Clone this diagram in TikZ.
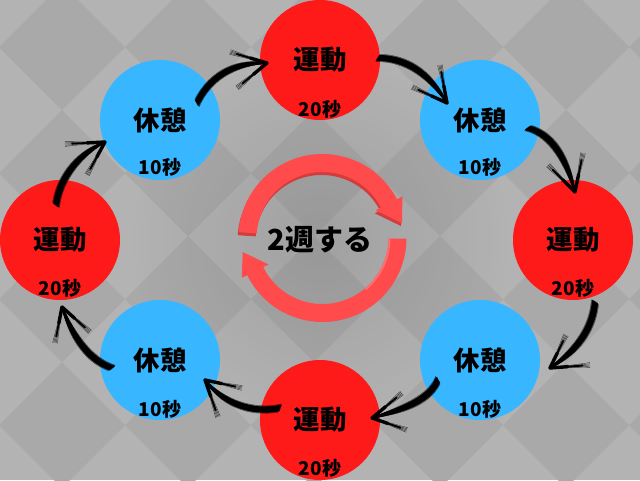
\documentclass[tikz,border=0pt]{standalone}
\usepackage{fontspec}
\usetikzlibrary{calc,fadings}
\setmainfont{Noto Sans CJK JP}
\definecolor{bgl}{HTML}{B3B3B3}
\definecolor{bgd}{HTML}{A9A9A9}
\definecolor{redc}{HTML}{FF1A1A}
\definecolor{bluec}{HTML}{38B6FF}
\definecolor{ringc}{HTML}{FF4B4B}
\definecolor{rings}{HTML}{D23C3C}
\definecolor{ringl}{HTML}{FF6E6E}
\tikzfading[name=midglow,inner color=transparent!90,outer color=transparent!100]
\tikzset{
  disc/.style={circle,minimum size=120pt,inner sep=0pt,font=\bfseries\fontsize{26.5}{26.5}\selectfont,text=black},
  redd/.style={disc,fill=redc},
  blued/.style={disc,fill=bluec},
  sub/.style={inner sep=0pt,font=\bfseries\fontsize{19}{19}\selectfont,text=black},
  hair/.style={line width=.4pt,black,opacity=.7},
  core/.style={line width=1.7pt,black,line cap=round},
}
% start, ctrl1, ctrl2, tip, barb1, barb2 (coordinate names)
\newcommand{\brusharrow}[6]{%
  \foreach \k in {-4.4,-3.7,-3,3,3.7,4.4}{
    \draw[hair] ($(#1)!\k pt!90:(#4)$) .. controls ($(#2)!\k pt!90:(#4)$) and ($(#3)!\k pt!90:(#4)$) .. (#4);
  }
  \foreach \k in {-2.6,-1.3,0,1.3,2.6}{
    \draw[core] ($(#1)!\k pt!90:(#4)$) .. controls ($(#2)!\k pt!90:(#4)$) and ($(#3)!\k pt!90:(#4)$) .. (#4);
  }
  \foreach \b in {#5,#6}{
    \foreach \k in {-2.4,-1.2,0,1.2,2.4}{
      \draw[hair] (#4) -- ($(\b)!\k pt!90:(#4)$);
    }
    \draw[line width=1.8pt,black,line cap=round] (#4) -- ($(#4)!.82!(\b)$);
    \draw[line width=3.4pt,black,line cap=round] (#4) -- ($(#4)!.45!(\b)$);
  }
}
\begin{document}
\begin{tikzpicture}[x=1pt,y=-1pt]
\useasboundingbox (0,0) rectangle (640,480);
\clip (0,0) rectangle (640,480);
\fill[bgl] (0,0) rectangle (640,480);
% checker background
\foreach \i in {-1,0,...,5}{
  \foreach \j in {-1,0,...,4}{
    \fill[bgd] ({62+126*\i-63},{47+126*\j}) -- ({62+126*\i},{47+126*\j-63}) -- ({62+126*\i+63},{47+126*\j}) -- ({62+126*\i},{47+126*\j+63}) -- cycle;
  }
}
% soft darkening towards the middle
\fill[black,path fading=midglow] (320,240) circle[radius=190];
% discs
\node[redd]  (r1) at (320,60)  {運動};
\node[blued] (b1) at (480,120) {休憩};
\node[redd]  (r2) at (573,240) {運動};
\node[blued] (b2) at (480,360) {休憩};
\node[redd]  (r3) at (320,420) {運動};
\node[blued] (b3) at (160,360) {休憩};
\node[redd]  (r4) at (60,240)  {運動};
\node[blued] (b4) at (160,120) {休憩};
\node[sub] (tr1) at (320,109) {20秒};
\node[sub] (tb1) at (480,167) {10秒};
\node[sub] (tr2) at (573,288) {20秒};
\node[sub] (tb2) at (480,409) {10秒};
\node[sub] (tr3) at (320,468) {20秒};
\node[sub] (tb3) at (160,409) {10秒};
\node[sub] (tr4) at (60,288)  {20秒};
\node[sub] (tb4) at (160,167) {10秒};
% connector geometry
\coordinate (a1) at (197,103); \coordinate (a1p) at (212,72); \coordinate (a1q) at (240,62); \coordinate (a1t) at (267,63); \coordinate (a1x) at (230,52); \coordinate (a1y) at (237,88);
\coordinate (a2) at (378,58); \coordinate (a2p) at (410,58); \coordinate (a2q) at (432,78); \coordinate (a2t) at (447,103); \coordinate (a2x) at (440,65); \coordinate (a2y) at (412,87);
\coordinate (a3) at (528,128); \coordinate (a3p) at (555,135); \coordinate (a3q) at (568,165); \coordinate (a3t) at (575,192); \coordinate (a3x) at (583,153); \coordinate (a3y) at (548,165);
\coordinate (a4) at (595,302); \coordinate (a4p) at (592,335); \coordinate (a4q) at (570,355); \coordinate (a4t) at (550,368); \coordinate (a4x) at (566,335); \coordinate (a4y) at (590,365);
\coordinate (a5) at (438,380); \coordinate (a5p) at (428,402); \coordinate (a5q) at (400,410); \coordinate (a5t) at (372,418); \coordinate (a5x) at (402,393); \coordinate (a5y) at (407,430);
\coordinate (a6) at (280,408); \coordinate (a6p) at (250,414); \coordinate (a6q) at (222,402); \coordinate (a6t) at (205,380); \coordinate (a6x) at (242,388); \coordinate (a6y) at (218,417);
\coordinate (a7) at (112,368); \coordinate (a7p) at (88,360); \coordinate (a7q) at (72,335); \coordinate (a7t) at (62,307); \coordinate (a7x) at (90,332); \coordinate (a7y) at (55,343);
\coordinate (a8) at (56,205); \coordinate (a8p) at (60,175); \coordinate (a8q) at (82,152); \coordinate (a8t) at (105,142); \coordinate (a8x) at (65,144); \coordinate (a8y) at (87,175);
\brusharrow{a1}{a1p}{a1q}{a1t}{a1x}{a1y}
\brusharrow{a2}{a2p}{a2q}{a2t}{a2x}{a2y}
\brusharrow{a3}{a3p}{a3q}{a3t}{a3x}{a3y}
\brusharrow{a4}{a4p}{a4q}{a4t}{a4x}{a4y}
\brusharrow{a5}{a5p}{a5q}{a5t}{a5x}{a5y}
\brusharrow{a6}{a6p}{a6q}{a6t}{a6x}{a6y}
\brusharrow{a7}{a7p}{a7q}{a7t}{a7x}{a7y}
\brusharrow{a8}{a8p}{a8q}{a8t}{a8x}{a8y}
% centre ring
\begin{scope}[shift={(322.5,238)},y=1pt]
  \def\upper{(176:84) arc[start angle=176,end angle=27.5,radius=84] -- (27.5:90) -- (10.6:81) -- (27.5:60) -- (27.5:66) arc[start angle=27.5,end angle=176,radius=66] -- cycle}
  \def\lower{(-0.5:84) arc[start angle=-0.5,end angle=-153.8,radius=84] -- (-153.8:90) -- (-170:81) -- (-153.8:60) -- (-153.8:66) arc[start angle=-153.8,end angle=-0.5,radius=66] -- cycle}
  \fill[rings,shift={(-1,-3)}] \upper;
  \fill[ringc] \upper;
  \fill[ringc] \lower;
  \draw[ringl,line width=2pt] (-0.5:67) arc[start angle=-0.5,end angle=-50,radius=67];
\end{scope}
\node[inner sep=0pt,font=\bfseries\fontsize{29}{29}\selectfont] (lab) at (320,240) {2週する};
\end{tikzpicture}
\end{document}
